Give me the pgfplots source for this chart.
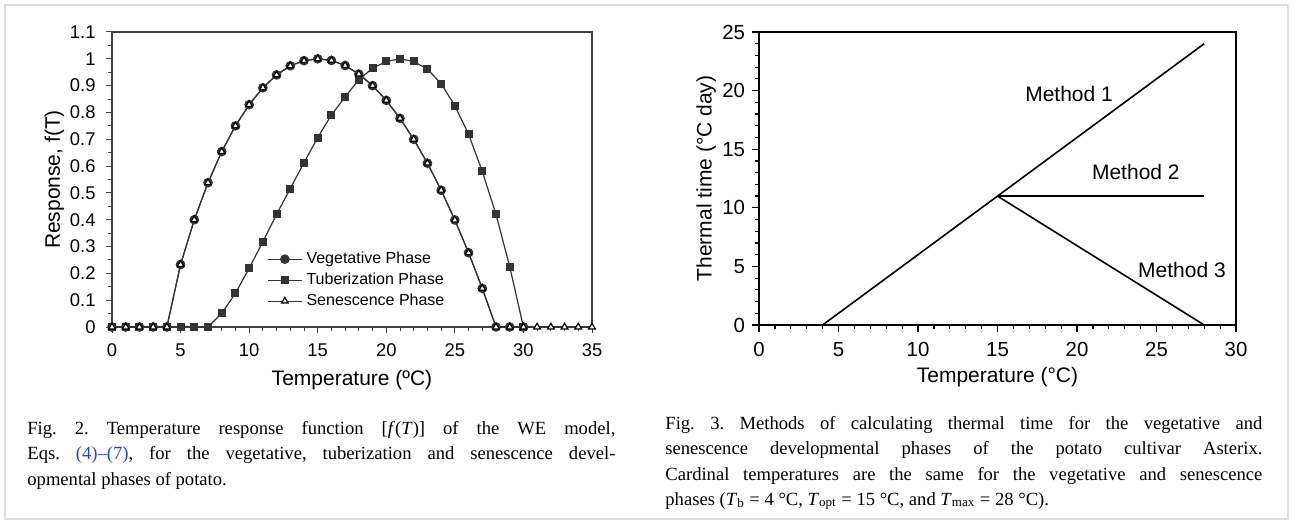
\documentclass[border=0pt]{standalone}
\usepackage{fontspec}
\setmainfont{Liberation Sans}
\newfontfamily\capfont{Liberation Serif}
\usepackage{pgfplots}
\pgfplotsset{compat=1.18}
\definecolor{linkblue}{RGB}{45,75,170}
\definecolor{framegray}{RGB}{222,222,222}

\begin{document}
\begin{tikzpicture}
% page: 1293 x 524 px at 0.5pt per px
\fill[white] (0,0) rectangle (646.5pt,262pt);
\draw[framegray, line width=0.8pt] (2.5pt,2.5pt) rectangle (644pt,259.5pt);

% Fig. 2: temperature response
\begin{axis}[
  at={(56pt,98.5pt)}, anchor=south west,
  scale only axis, width=240pt, height=147.5pt,
  xmin=0, xmax=35, ymin=0, ymax=1.1,
  xtick={0,5,...,35}, minor x tick num=4,
  ytick={0,0.1,0.2,0.3,0.4,0.5,0.6,0.7,0.8,0.9,1,1.1}, minor y tick num=1,
  tick pos=left, tick align=outside,
  major tick length=3.2pt, minor tick length=1.8pt,
  axis line style={black!75, line width=0.6pt},
  every tick/.style={black!75, line width=0.5pt},
  ticklabel style={font=\fontsize{9.2}{10}\selectfont},
  xticklabel style={yshift=-1.5pt},
  yticklabel style={xshift=-1.5pt},
  /pgf/number format/assume math mode=true,
  xlabel={Temperature (ºC)}, ylabel={Response, f(T)},
  label style={font=\fontsize{10.5}{12}\selectfont},
  xlabel style={at={(axis description cs:0.5,-0.18)}, anchor=center},
  ylabel style={at={(axis description cs:-0.12,0.5)}, anchor=center},
  legend style={draw=none, fill=none, at={(axis description cs:0.31,0.283)},
    anchor=north west, font=\fontsize{8}{9}\selectfont, row sep=-0.8pt},
  legend cell align=left,
  clip=false,
]
\addplot[black!80, line width=0.6pt, mark=*, mark size=2.1pt] coordinates {
  (0,0) (1,0) (2,0) (3,0) (4,0) (5,0.233) (6,0.400) (7,0.538) (8,0.654)
  (9,0.750) (10,0.829) (11,0.892) (12,0.940) (13,0.974) (14,0.993) (15,1)
  (16,0.994) (17,0.975) (18,0.943) (19,0.900) (20,0.845) (21,0.778)
  (22,0.700) (23,0.611) (24,0.510) (25,0.399) (26,0.277) (27,0.144)
  (28,0) (29,0) (30,0)
};
\addlegendentry{Vegetative Phase}
\addplot[black!80, line width=0.6pt, mark=square*, mark size=1.7pt] coordinates {
  (0,0) (1,0) (2,0) (3,0) (4,0) (5,0) (6,0) (7,0) (8,0.051) (9,0.126)
  (10,0.219) (11,0.318) (12,0.420) (13,0.516) (14,0.613) (15,0.706)
  (16,0.791) (17,0.858) (18,0.922) (19,0.965) (20,0.990) (21,1) (22,0.990)
  (23,0.962) (24,0.907) (25,0.825) (26,0.719) (27,0.580) (28,0.420)
  (29,0.225) (30,0)
};
\addlegendentry{Tuberization Phase}
\addplot[black!80, line width=0.6pt, mark=triangle*, mark size=1.9pt,
  mark options={fill=white, draw=black}] coordinates {
  (0,0) (1,0) (2,0) (3,0) (4,0) (5,0.233) (6,0.400) (7,0.538) (8,0.654)
  (9,0.750) (10,0.829) (11,0.892) (12,0.940) (13,0.974) (14,0.993) (15,1)
  (16,0.994) (17,0.975) (18,0.943) (19,0.900) (20,0.845) (21,0.778)
  (22,0.700) (23,0.611) (24,0.510) (25,0.399) (26,0.277) (27,0.144)
  (28,0) (29,0) (30,0) (31,0) (32,0) (33,0) (34,0) (35,0)
};
\addlegendentry{Senescence Phase}
\end{axis}

% Fig. 3: thermal time methods
\begin{axis}[
  at={(379.5pt,99.5pt)}, anchor=south west,
  scale only axis, width=238.5pt, height=146.5pt,
  xmin=0, xmax=30, ymin=0, ymax=25,
  xtick={0,5,...,30}, ytick={0,5,...,25}, minor tick num=4,
  tick pos=left, tick align=outside,
  major tick length=3.5pt, minor tick length=2.2pt,
  axis line style={black, line width=0.9pt},
  every tick/.style={black, line width=0.6pt},
  ticklabel style={font=\fontsize{10.2}{12}\selectfont},
  xticklabel style={yshift=-1.5pt},
  /pgf/number format/assume math mode=true,
  xlabel={Temperature (°C)}, ylabel={Thermal time (°C day)},
  label style={font=\fontsize{10.5}{12}\selectfont},
  xlabel style={at={(axis description cs:0.5,-0.178)}, anchor=center},
  ylabel style={at={(axis description cs:-0.111,0.5)}, anchor=center},
  clip=false,
]
\addplot[black, line width=0.8pt] coordinates {(0,0) (4,0) (15,11) (28,24)};
\addplot[black, line width=0.8pt] coordinates {(15,11) (28,11)};
\addplot[black, line width=0.8pt] coordinates {(15,11) (28,0)};
\node[font=\fontsize{10.5}{12}\selectfont] at (axis cs:19.5,19.7) {Method 1};
\node[font=\fontsize{10.5}{12}\selectfont] at (axis cs:23.7,13.05) {Method 2};
\node[font=\fontsize{10.5}{12}\selectfont] at (axis cs:26.6,4.7) {Method 3};
\end{axis}

% captions
\begin{scope}[every node/.style={anchor=base west, inner sep=0pt,
    font=\capfont\fontsize{9.3}{10}\selectfont\frenchspacing}]
\node at (13.5pt,44.85pt) {\makebox[294pt][s]{Fig. 2. Temperature response function [\textit{f}(\textit{T})] of the WE model,}};
\node at (13.5pt,32pt) {\makebox[294pt][s]{Eqs. \textcolor{linkblue}{(4)–(7)}, for the vegetative, tuberization and senescence devel-}};
\node at (13.5pt,19.15pt) {opmental phases of potato.};
\node at (332.5pt,47.35pt) {\makebox[298.5pt][s]{Fig. 3. Methods of calculating thermal time for the vegetative and}};
\node at (332.5pt,34.5pt) {\makebox[298.5pt][s]{senescence developmental phases of the potato cultivar Asterix.}};
\node at (332.5pt,22pt) {\makebox[298.5pt][s]{Cardinal temperatures are the same for the vegetative and senescence}};
\node at (332.5pt,9.5pt) {phases (\textit{T}\textsubscript{b} = 4 °C, \textit{T}\textsubscript{opt} = 15 °C, and \textit{T}\textsubscript{max} = 28 °C).};
\end{scope}
\end{tikzpicture}
\end{document}
